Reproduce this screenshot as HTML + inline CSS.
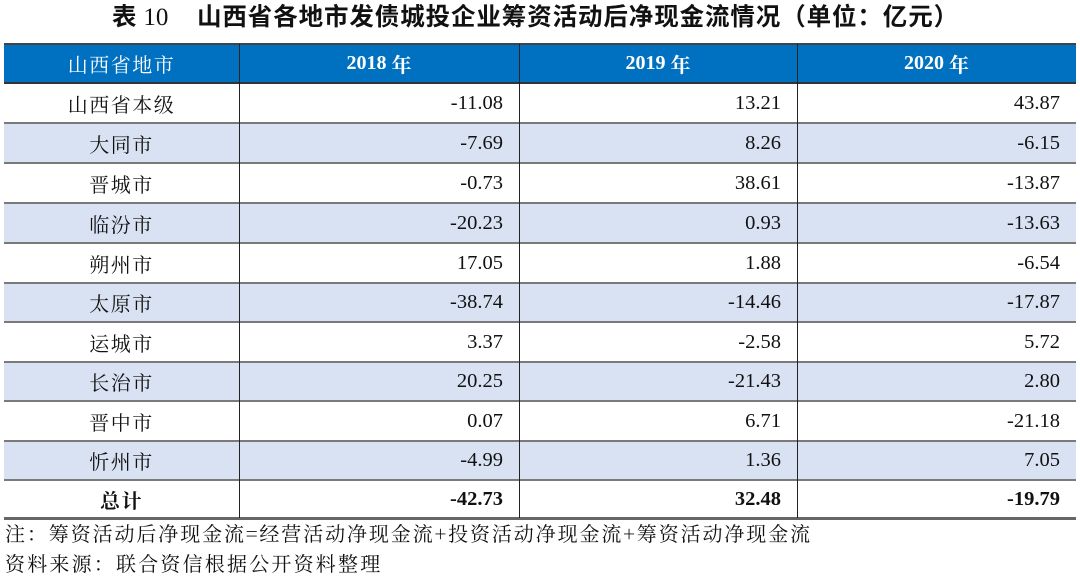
<!DOCTYPE html>
<html>
<head>
<meta charset="utf-8">
<style>
  html, body { margin:0; padding:0; background:#fff; }
  body { width:1080px; height:578px; position:relative; overflow:hidden; }
  .title { position:absolute; left:0; top:2px; width:1080px; height:32px; line-height:32px;
    font-family:"Liberation Sans","Noto Sans CJK SC",sans-serif; font-weight:bold; font-size:24.5px; color:#111; }
  .title .t1 { position:absolute; left:112px; }
  .title .t1 .n { font-family:"Liberation Serif","Noto Serif CJK SC",serif; font-weight:normal; font-size:25px; }
  .title .t2 { position:absolute; left:197px; letter-spacing:0.9px; }
  .row { position:absolute; left:4px; width:1072px; }
  .cell { position:absolute; top:0; height:100%; display:flex; align-items:center; box-sizing:border-box; }
  .c0 { left:0; width:235px; justify-content:center; font-family:"Noto Serif CJK SC","Liberation Serif",serif; font-size:20px; letter-spacing:1.5px; color:#111; }
  .c1 { left:235px; width:280px; }
  .c2 { left:515px; width:278px; }
  .c3 { left:793px; width:279px; }
  .num { justify-content:flex-end; padding-right:16px; font-family:"Liberation Serif",serif; font-size:20.5px; color:#111; }
  .hdr { background:#0070C0; }
  .hdr .cell { color:#fff; justify-content:center; }
  .hdr .yr { font-family:"Liberation Serif","Noto Serif CJK SC",serif; font-weight:bold; font-size:20px; }
  .hdr .yr span { font-family:"Noto Serif CJK SC",serif; font-weight:bold; }
  .hdr .c0 { color:#fff; }
  .alt { background:#D9E2F3; }
  .hline { position:absolute; left:4px; width:1072px; height:2px; background:#7a7a7a; }
  .vline { position:absolute; width:1.5px; background:#222; top:44px; height:474px; }
  .bold { font-weight:bold; }
  .note { position:absolute; left:5px; font-family:"Noto Serif CJK SC","Liberation Serif",serif; font-size:20px; color:#111; letter-spacing:2.2px; white-space:nowrap; }
</style>
</head>
<body>
<div class="title"><span class="t1">表 <span class="n">10</span></span><span class="t2">山西省各地市发债城投企业筹资活动后净现金流情况（单位：亿元）</span></div>

<div class="row hdr" style="top:44px;height:39px;">
  <div class="cell c0">山西省地市</div>
  <div class="cell c1 yr">2018 <span>&nbsp;年</span></div>
  <div class="cell c2 yr">2019 <span>&nbsp;年</span></div>
  <div class="cell c3 yr">2020 <span>&nbsp;年</span></div>
</div>

<div class="row" style="top:83px;height:40px;">
  <div class="cell c0">山西省本级</div>
  <div class="cell c1 num">-11.08</div><div class="cell c2 num">13.21</div><div class="cell c3 num">43.87</div>
</div>
<div class="row alt" style="top:123px;height:40px;">
  <div class="cell c0">大同市</div>
  <div class="cell c1 num">-7.69</div><div class="cell c2 num">8.26</div><div class="cell c3 num">-6.15</div>
</div>
<div class="row" style="top:163px;height:40px;">
  <div class="cell c0">晋城市</div>
  <div class="cell c1 num">-0.73</div><div class="cell c2 num">38.61</div><div class="cell c3 num">-13.87</div>
</div>
<div class="row alt" style="top:203px;height:40px;">
  <div class="cell c0">临汾市</div>
  <div class="cell c1 num">-20.23</div><div class="cell c2 num">0.93</div><div class="cell c3 num">-13.63</div>
</div>
<div class="row" style="top:243px;height:40px;">
  <div class="cell c0">朔州市</div>
  <div class="cell c1 num">17.05</div><div class="cell c2 num">1.88</div><div class="cell c3 num">-6.54</div>
</div>
<div class="row alt" style="top:283px;height:39px;">
  <div class="cell c0">太原市</div>
  <div class="cell c1 num">-38.74</div><div class="cell c2 num">-14.46</div><div class="cell c3 num">-17.87</div>
</div>
<div class="row" style="top:322px;height:40px;">
  <div class="cell c0">运城市</div>
  <div class="cell c1 num">3.37</div><div class="cell c2 num">-2.58</div><div class="cell c3 num">5.72</div>
</div>
<div class="row alt" style="top:362px;height:39px;">
  <div class="cell c0">长治市</div>
  <div class="cell c1 num">20.25</div><div class="cell c2 num">-21.43</div><div class="cell c3 num">2.80</div>
</div>
<div class="row" style="top:401px;height:40px;">
  <div class="cell c0">晋中市</div>
  <div class="cell c1 num">0.07</div><div class="cell c2 num">6.71</div><div class="cell c3 num">-21.18</div>
</div>
<div class="row alt" style="top:441px;height:39px;">
  <div class="cell c0">忻州市</div>
  <div class="cell c1 num">-4.99</div><div class="cell c2 num">1.36</div><div class="cell c3 num">7.05</div>
</div>
<div class="row" style="top:480px;height:38px;">
  <div class="cell c0 bold">总计</div>
  <div class="cell c1 num bold">-42.73</div><div class="cell c2 num bold">32.48</div><div class="cell c3 num bold">-19.79</div>
</div>

<!-- horizontal lines -->
<div class="hline" style="top:43px;background:#444;"></div>
<div class="hline" style="top:82px;background:#333;"></div>
<div class="hline" style="top:122px;"></div>
<div class="hline" style="top:162px;"></div>
<div class="hline" style="top:202px;"></div>
<div class="hline" style="top:242px;"></div>
<div class="hline" style="top:282px;"></div>
<div class="hline" style="top:321px;"></div>
<div class="hline" style="top:361px;"></div>
<div class="hline" style="top:400px;"></div>
<div class="hline" style="top:440px;"></div>
<div class="hline" style="top:479px;"></div>
<div class="hline" style="top:517px;height:2.5px;background:#666;"></div>

<!-- vertical lines -->
<div class="vline" style="left:238.5px;"></div>
<div class="vline" style="left:518.5px;"></div>
<div class="vline" style="left:796.5px;"></div>

<div class="note" style="top:519px;line-height:28px;letter-spacing:1.9px;">注：筹资活动后净现金流=经营活动净现金流+投资活动净现金流+筹资活动净现金流</div>
<div class="note" style="top:549px;line-height:28px;">资料来源：联合资信根据公开资料整理</div>
</body>
</html>
